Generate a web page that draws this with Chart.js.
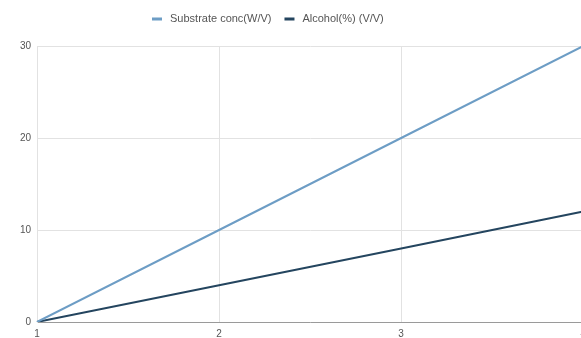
<!DOCTYPE html>
<html>
<head>
<meta charset="utf-8">
<script src="https://cdn.jsdelivr.net/npm/chart.js@4/dist/chart.umd.min.js"></script>
<style>
  html, body { margin: 0; padding: 0; background: #fff; overflow: hidden; }
  #wrap { width: 581px; height: 338px; overflow: hidden; position: relative; }
  canvas { display: block; }
</style>
</head>
<body>
<div id="wrap"><canvas id="myChart" width="592" height="346"></canvas></div>
<script>
"use strict";
const categories = ["1", "2", "3", "4"];
const substrateConc = [0, 10, 20, 30];
const alcohol = [0, 4, 8, 12];
const yTicks = [0, 10, 20, 30];

// legend drawn by hand, google-charts style (short thick line + label)
const lineLegend = {
    id: "lineLegend",
    afterDraw(chart) {
        let ctx = chart.ctx;
        ctx.save();
        ctx.font = "11px 'Liberation Sans', Arial, sans-serif";
        ctx.textBaseline = "middle";
        let x = 152;
        let y = 19;
        chart.data.datasets.forEach(function (ds) {
            ctx.fillStyle = ds.borderColor;
            ctx.fillRect(x, y - 1.5, 10, 3);
            x += 18;
            ctx.fillStyle = "#555";
            ctx.fillText(ds.label, x, y);
            x += ctx.measureText(ds.label).width + 13;
        });
        ctx.restore();
    }
};

const ctx = document.getElementById("myChart").getContext("2d");
const myChart = new Chart(ctx, {
    type: "line",
    data: {
        labels: categories,
        datasets: [
            {
                label: "Substrate conc(W/V)",
                data: substrateConc,
                borderColor: "#6d9dc5",
                borderWidth: 2,
                pointRadius: 0,
                tension: 0
            },
            {
                label: "Alcohol(%) (V/V)",
                data: alcohol,
                borderColor: "#24455f",
                borderWidth: 2,
                pointRadius: 0,
                tension: 0
            }
        ]
    },
    options: {
        responsive: false,
        animation: false,
        layout: { padding: { top: 46, right: 6, left: 0, bottom: 0 } },
        plugins: {
            legend: { display: false },
            tooltip: { enabled: false }
        },
        scales: {
            x: {
                offset: false,
                grid: { color: "#e2e2e2", drawTicks: false },
                border: { color: "#9a9a9a", width: 1 },
                ticks: {
                    color: "#555",
                    padding: 6,
                    font: { family: "'Liberation Sans', Arial, sans-serif", size: 10 },
                    maxRotation: 0
                },
                afterFit: function (scale) { scale.height = 24; }
            },
            y: {
                min: 0,
                max: 30,
                afterBuildTicks: function (scale) {
                    scale.ticks = yTicks.map(function (v) { return { value: v }; });
                },
                grid: { color: "#e2e2e2", drawTicks: false },
                border: { color: "#e2e2e2" },
                ticks: {
                    color: "#555",
                    padding: 6,
                    font: { family: "'Liberation Sans', Arial, sans-serif", size: 10 }
                },
                afterFit: function (scale) { scale.width = 37; }
            }
        }
    },
    plugins: [lineLegend]
});
</script>
</body>
</html>
